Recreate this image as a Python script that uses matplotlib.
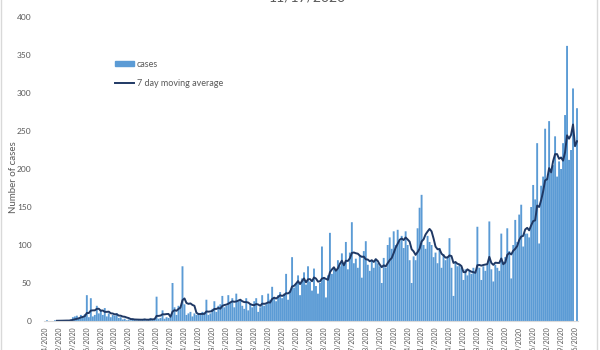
import matplotlib
matplotlib.use('Agg')
import matplotlib.pyplot as plt
import matplotlib.patches as mpatches
from matplotlib.lines import Line2D
import pandas as pd

plt.rcParams['font.family'] = ['Lato', 'DejaVu Sans']

start_date = '2020-02-24'
title_text = '11/17/2020'

# daily case counts
cases = [
    0, 1, 0, 0, 0, 1, 0, 0, 1, 1, 1, 0, 1, 2,
    5, 6, 7, 4, 8, 6, 9,
    34, 5, 30, 6, 8, 20, 10,
    15, 8, 17, 6, 10, 5, 8,
    7, 10, 4, 5, 2, 3, 1,
    2, 1, 3, 2, 1, 2, 1, 2, 3, 1, 2, 4, 2, 3,
    32, 3, 4, 14, 3, 5, 4,
    6, 50, 18, 8, 20, 18, 72,
    22, 8, 10, 12, 6, 10, 8,
    10, 9, 12, 11, 28, 8, 10,
    16, 26, 12, 20, 22, 33, 18,
    20, 34, 24, 30, 18, 36, 26,
    28, 20, 16, 30, 14, 22, 18,
    26, 30, 12, 18, 34, 20, 22,
    36, 28, 45, 30, 26, 34, 38,
    30, 36, 62, 28, 40, 84, 44,
    50, 60, 34, 56, 64, 48, 72,
    52, 40, 69, 46, 36, 50, 98,
    58, 31, 60, 116, 62, 70, 66,
    80, 72, 89, 74, 104, 68, 90,
    130, 76, 82, 70, 86, 57, 92,
    105, 74, 66, 80, 70, 82, 76,
    72, 50, 83, 70, 100, 110, 95,
    118, 100, 120, 105, 112, 96, 118,
    100, 80, 50, 85, 80, 122, 149,
    166, 100, 95, 112, 104, 100, 84,
    90, 76, 96, 70, 88, 80, 85,
    109, 70, 33, 78, 72, 74, 70,
    54, 68, 60, 66, 62, 70, 64,
    124, 70, 54, 72, 66, 74, 131,
    68, 52, 74, 70, 66, 115, 78,
    84, 122, 92, 56, 100, 133, 104,
    140, 153, 98, 115, 115, 110, 150,
    179, 160, 234, 102, 178, 190, 253,
    188, 263, 195, 205, 243, 190, 210,
    200, 234, 271, 362, 212, 225, 306,
    0, 280,
]

dates = pd.date_range(start_date, periods=len(cases), freq='D')
df = pd.DataFrame({'date': dates, 'cases': cases})
df['avg7'] = df['cases'].rolling(7).mean()

grey = '#595959'
bar_blue = '#5b9bd5'
navy = '#1f3864'

fig = plt.figure(figsize=(6, 3.5), dpi=100)
ax = fig.add_axes([44/600, 29/350, 534/600, 304/350])

x = range(len(df))
bars = ax.bar(x, df['cases'], width=0.95, color=bar_blue, linewidth=0)
for b in bars:
    b.set_snap(False)
ax.plot(x, df['avg7'], color=navy, lw=1.4)

ax.set_xlim(-0.5, len(df) - 0.5)
ax.set_ylim(0, 400)
ax.set_yticks(range(0, 401, 50))

tick_idx = list(range(0, len(df), 7))
tick_lab = [f'{d.month}/{d.day}/{d.year}' for d in df['date'].iloc[tick_idx]]
ax.set_xticks(tick_idx)
ax.set_xticklabels(tick_lab, rotation=90, va='top', ha='center', fontsize=5)

ax.tick_params(axis='both', length=0, labelcolor=grey)
ax.tick_params(axis='y', pad=9, labelsize=6)
ax.tick_params(axis='x', pad=4)
for s in ['top', 'right', 'left']:
    ax.spines[s].set_visible(False)
ax.spines['bottom'].set_color('#d9d9d9')
ax.set_ylabel('Number of cases', fontsize=7, color=grey)
ax.yaxis.set_label_coords(-(44 - 18) / 534, (321 - 177) / 304)

handles = [mpatches.Patch(color=bar_blue), Line2D([], [], color=navy, lw=1.4)]
fig.legend(handles, ['cases', '7 day moving average'], loc='upper left',
           bbox_to_anchor=(115/600, (350 - 60) / 350), frameon=False,
           fontsize=6.5, labelcolor=grey, borderpad=0, borderaxespad=0,
           handlelength=2.1, handleheight=0.45, handletextpad=0.3,
           labelspacing=1.1)

fig.text(0.512, 1 - 1.5/350, title_text, ha='center', va='baseline',
         fontsize=10, color=grey)

fig.patches.append(mpatches.Rectangle((0.002, -0.05), 0.993, 1.1,
                                      transform=fig.transFigure, fill=False,
                                      edgecolor='#d9d9d9', lw=1))

fig.savefig('out.png', dpi=100)
